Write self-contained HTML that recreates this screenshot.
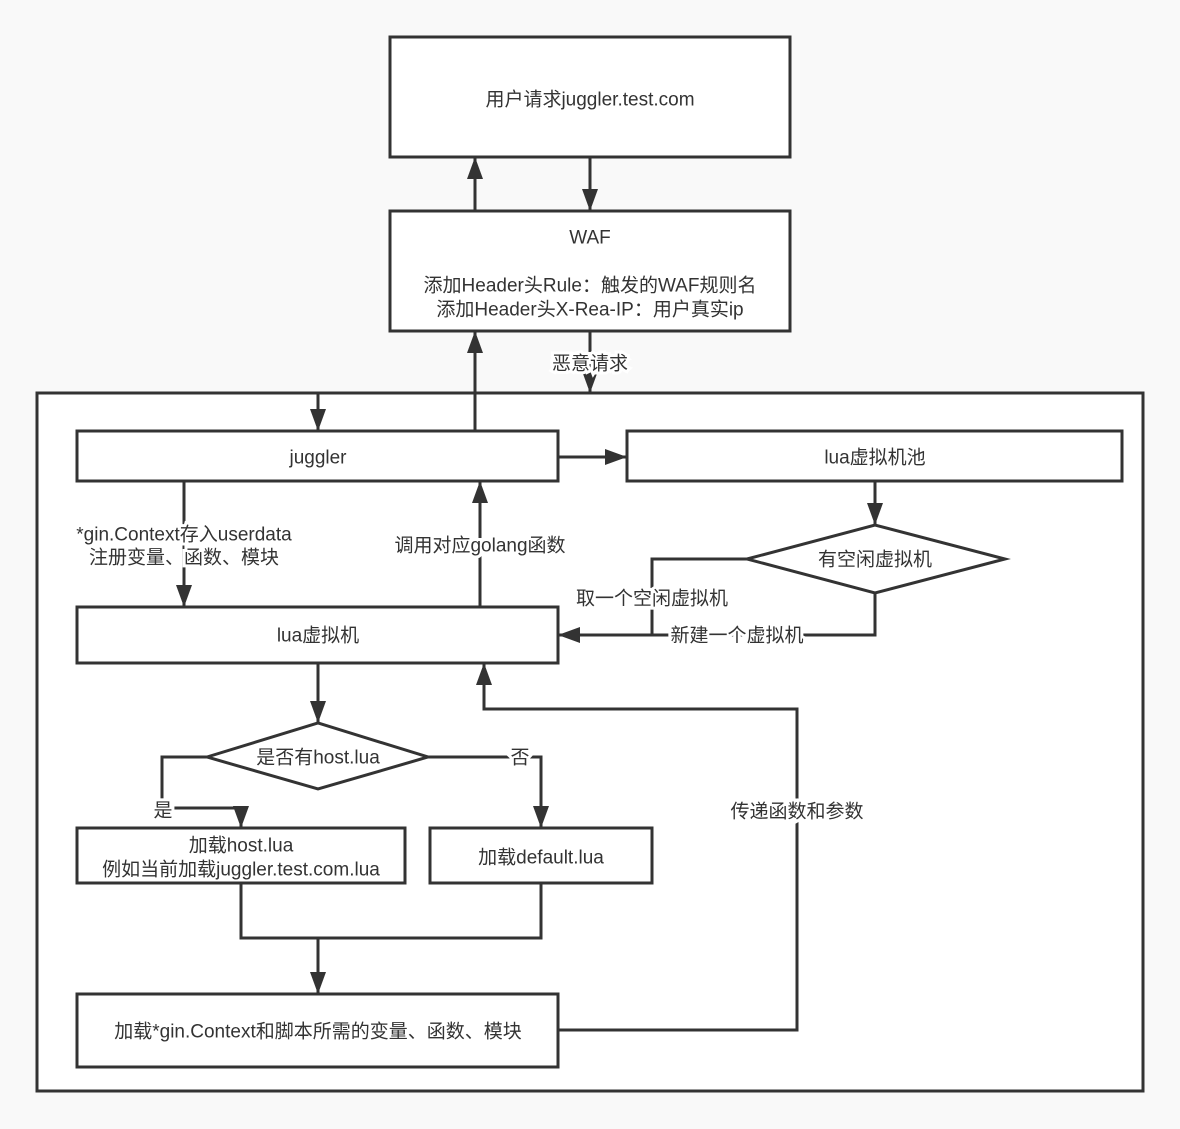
<!DOCTYPE html>
<html><head><meta charset="utf-8"><style>
html,body{margin:0;padding:0;background:#f9f9f9;}
svg{display:block}
text{font-family:"Liberation Sans","Noto Sans CJK SC",sans-serif;font-size:19px;fill:#333;text-anchor:middle;dominant-baseline:central}
.b{fill:#fff;stroke:#333;stroke-width:3}
.l{fill:none;stroke:#333;stroke-width:3}
.lbl{paint-order:stroke;stroke:#fff;stroke-width:6px}
</style></head><body>
<svg width="1180" height="1129" viewBox="0 0 1180 1129">
<defs>
<marker id="h" markerWidth="22" markerHeight="18" refX="21" refY="9" orient="auto" markerUnits="userSpaceOnUse" viewBox="0 0 22 18"><path d="M0,1 L22,9 L0,17z" fill="#333"/></marker></defs>
<rect width="1180" height="1129" fill="#f9f9f9"/>
<rect class="b" x="390" y="37" width="400" height="120"/>
<text x="590" y="100">用户请求juggler.test.com</text>
<rect class="b" x="390" y="211" width="400" height="120"/>
<text x="590" y="238">WAF</text>
<text x="590" y="286">添加Header头Rule：触发的WAF规则名</text>
<text x="590" y="310">添加Header头X-Rea-IP：用户真实ip</text>
<path class="l" d="M475,211 V158" marker-end="url(#h)"/>
<path class="l" d="M590,157 V210" marker-end="url(#h)"/>
<rect class="b" x="37" y="393" width="1106" height="698"/>
<path class="l" d="M590,331 V392" marker-end="url(#h)"/>
<text class="lbl" x="590" y="364">恶意请求</text>
<path class="l" d="M475,431 V332" marker-end="url(#h)"/>
<path class="l" d="M318,393 V430" marker-end="url(#h)"/>
<rect class="b" x="77" y="431" width="481" height="50"/>
<text x="318" y="458">juggler</text>
<rect class="b" x="627" y="431" width="495" height="50"/>
<text x="875" y="458">lua虚拟机池</text>
<path class="l" d="M558,457 H626" marker-end="url(#h)"/>
<path class="l" d="M875,481 V524" marker-end="url(#h)"/>
<polygon class="b" points="747,559 875,525 1005,559 875,593"/>
<text x="875" y="560">有空闲虚拟机</text>
<path class="l" d="M747,559 H652 V635 H559" marker-end="url(#h)"/>
<path class="l" d="M875,593 V635 H652"/>
<text class="lbl" x="652" y="599">取一个空闲虚拟机</text>
<text class="lbl" x="737" y="636">新建一个虚拟机</text>
<rect class="b" x="77" y="607" width="481" height="56"/>
<text x="318" y="636">lua虚拟机</text>
<path class="l" d="M480,607 V482" marker-end="url(#h)"/>
<text class="lbl" x="480" y="546">调用对应golang函数</text>
<path class="l" d="M184,481 V606" marker-end="url(#h)"/>
<text class="lbl" x="184" y="535">*gin.Context存入userdata</text>
<text class="lbl" x="184" y="558">注册变量、函数、模块</text>
<path class="l" d="M318,663 V722" marker-end="url(#h)"/>
<polygon class="b" points="207,757 318,723 428,757 318,789"/>
<text x="318" y="758">是否有host.lua</text>
<path class="l" d="M207,757 H162 V808 H241 V827" marker-end="url(#h)"/>
<text class="lbl" x="163" y="811">是</text>
<path class="l" d="M428,757 H541 V827" marker-end="url(#h)"/>
<text class="lbl" x="520" y="758">否</text>
<rect class="b" x="77" y="828" width="328" height="55"/>
<text x="241" y="846">加载host.lua</text>
<text x="241" y="870">例如当前加载juggler.test.com.lua</text>
<rect class="b" x="430" y="828" width="222" height="55"/>
<text x="541" y="858">加载default.lua</text>
<path class="l" d="M241,883 V938 H541 V883"/>
<path class="l" d="M318,938 V993" marker-end="url(#h)"/>
<rect class="b" x="77" y="994" width="481" height="73"/>
<text x="318" y="1032">加载*gin.Context和脚本所需的变量、函数、模块</text>
<path class="l" d="M558,1030 H797 V709 H484 V664" marker-end="url(#h)"/>
<text class="lbl" x="797" y="812">传递函数和参数</text>
</svg>
</body></html>
